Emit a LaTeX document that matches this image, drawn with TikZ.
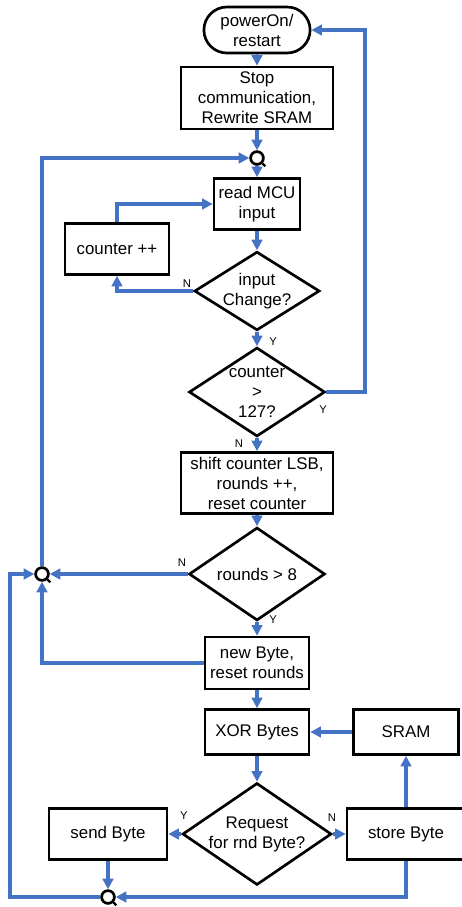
\documentclass[tikz,border=0pt]{standalone}
\usepackage{fontspec}
\setmainfont{Liberation Sans}
\usepackage{tikz}
\usetikzlibrary{arrows.meta,shapes.geometric,shapes.misc,positioning}
\definecolor{flowblue}{HTML}{4472C4}

\begin{document}
\begin{tikzpicture}[
    box/.style={draw, line width=1.9pt, align=center, font=\fontsize{12}{14.2}\selectfont, inner sep=1pt},
    term/.style={box, rounded rectangle},
    dec/.style={box, diamond, inner sep=0pt},
    junc/.style={draw, circle, line width=1.9pt, minimum size=0.32cm, inner sep=0pt},
    flag/.style={font=\fontsize{8}{9}\selectfont},
    arr/.style={-{Triangle[length=7.5pt,width=7.5pt]}, line width=2.2pt, flowblue}
]
\useasboundingbox (0,0) rectangle (11.55,-22.675);

\node[term, minimum width=2.725cm, minimum height=1.15cm] (pwr) at (6.425,-0.75) {powerOn/\\restart};
\node[box, minimum width=3.8cm, minimum height=1.55cm] (stop) at (6.425,-2.45) {Stop\\communication,\\Rewrite SRAM};
\node[junc] (j1) at (6.425,-3.95) {};
\node[box, minimum width=2.15cm, minimum height=1.275cm] (read) at (6.425,-5.1) {read MCU\\input};
\node[box, minimum width=2.6cm, minimum height=1.275cm] (cnt) at (2.925,-6.225) {counter ++};
\node[dec, shape aspect=1.59, minimum width=3.1cm, minimum height=1.95cm] (chg) at (6.425,-7.275) {input\\Change?};
\node[dec, shape aspect=1.53, minimum width=3.4cm, minimum height=2.225cm] (c127) at (6.425,-9.8) {counter\\>\\127?};
\node[box, minimum width=3.8cm, minimum height=1.525cm] (shift) at (6.425,-12.075) {shift counter LSB,\\rounds ++,\\reset counter};
\node[dec, shape aspect=1.46, minimum width=3.4cm, minimum height=2.325cm] (rnd) at (6.425,-14.35) {rounds > 8};
\node[junc] (j2) at (1.05,-14.35) {};
\node[box, minimum width=2.6cm, minimum height=1.3cm] (newb) at (6.425,-16.575) {new Byte,\\reset rounds};
\node[box, minimum width=2.6cm, minimum height=1.125cm] (xor) at (6.425,-18.3) {XOR Bytes};
\node[box, minimum width=2.625cm, minimum height=1.125cm] (sram) at (10.15,-18.3) {SRAM};
\node[dec, shape aspect=1.46, minimum width=3.725cm, minimum height=2.55cm] (req) at (6.425,-20.85) {Request\\for rnd Byte?};
\node[box, minimum width=2.95cm, minimum height=1.275cm] (send) at (2.7,-20.85) {send Byte};
\node[box, minimum width=2.95cm, minimum height=1.275cm] (store) at (10.15,-20.85) {store Byte};
\node[junc] (j3) at (2.7,-22.425) {};
\coordinate (rside) at (9.125,0);
\coordinate (lside) at (0.25,0);

% tails of the connector circles
\foreach \j in {j1,j2,j3}
    \draw[line width=1.6pt] (\j.-45) -- ++(0.07,-0.07);

% branch labels
\node[flag] (nchg) at (4.675,-7.1) {N};
\node[flag] (ychg) at (6.825,-8.55) {Y};
\node[flag] (y127) at (8.075,-10.25) {Y};
\node[flag] (n127) at (5.975,-11.1) {N};
\node[flag] (nrnd) at (4.55,-14.075) {N};
\node[flag] (yrnd) at (6.825,-15.5) {Y};
\node[flag] (yreq) at (4.6,-20.4) {Y};
\node[flag] (nreq) at (8.3,-20.45) {N};

\draw[arr] (pwr) -- (stop);
\draw[arr] (stop) -- (j1);
\draw[arr] (j1) -- (read);
\draw[arr] (read) -- (chg);
\draw[arr] (chg.west) -| (cnt.south);
\draw[arr] (cnt.north) |- (read.west);
\draw[arr] (chg) -- (c127);
\draw[arr] (c127.east) -| (rside |- pwr.east) -- (pwr.east);
\draw[arr] (c127) -- (shift);
\draw[arr] (shift) -- (rnd);
\draw[arr] (rnd) -- (j2);
\draw[arr] (rnd) -- (newb);
\draw[arr] (newb.west) -| (j2.south);
\draw[arr] (j2.north) |- (j1.west);
\draw[arr] (newb) -- (xor);
\draw[arr] (sram) -- (xor);
\draw[arr] (xor) -- (req);
\draw[arr] (req) -- (send);
\draw[arr] (req) -- (store);
\draw[arr] (store) -- (sram);
\draw[arr] (send) -- (j3);
\draw[arr] (store.south) |- (j3.east);
\draw[arr] (j3.west) -| (lside |- j2.west) -- (j2.west);
\end{tikzpicture}
\end{document}
